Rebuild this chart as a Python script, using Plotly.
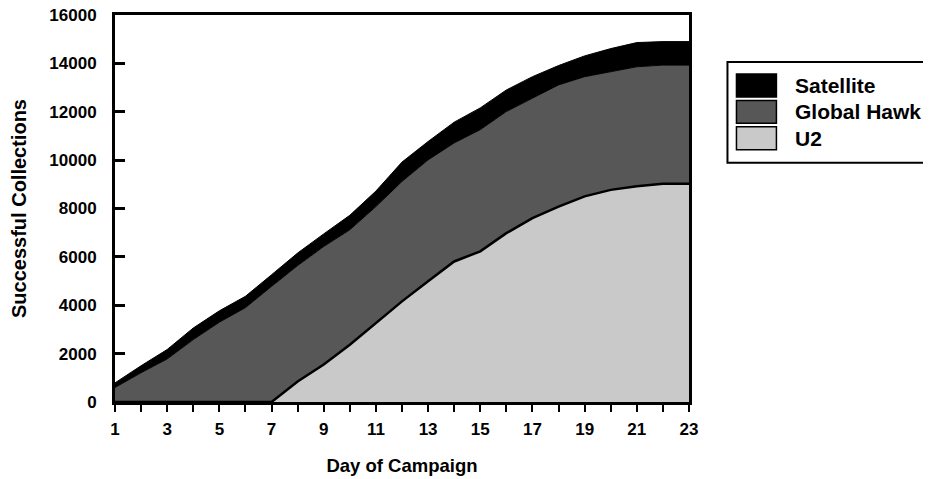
import plotly.graph_objects as go

# day of campaign
days = list(range(1, 24))

# successful collections per platform (stacked: U2 at the bottom)
u2 = [0, 0, 0, 0, 0, 0, 0, 850, 1550, 2370, 3270, 4160, 4990, 5810, 6230, 6980,
      7600, 8080, 8500, 8770, 8920, 9020, 9020]
global_hawk = [600, 1210, 1780, 2580, 3300, 3900, 4780, 4790, 4880, 4750, 4810, 4960,
               5020, 4900, 5030, 5030, 4960, 5030, 4950, 4890, 4940, 4910, 4910]
satellite = [190, 290, 390, 480, 470, 470, 480, 520, 520, 600, 640, 800, 760, 860,
             900, 890, 890, 800, 860, 950, 1000, 970, 970]

x_tick_labels = ["1", "", "3", "", "5", "", "7", "", "9", "", "11", "", "13", "",
                 "15", "", "17", "", "19", "", "21", "", "23"]
y_ticks = [0, 2000, 4000, 6000, 8000, 10000, 12000, 14000, 16000]

series_names = ["U2", "Global Hawk", "Satellite"]
series_values = [u2, global_hawk, satellite]
fill_colors = ["#c9c9c9", "#575757", "#000000"]
line_widths = [2.5, 1, 1]

FONT = "Liberation Sans, Arial, Helvetica, sans-serif"
# the page body adds an 8px offset, so the figure is sized to fit the window
OFF = 8
W, H = 931 - OFF, 479 - OFF
ML, MT = 115 - OFF, 15 - OFF
MR = W - (689.5 - OFF)
MB = H - (402.5 - OFF)

fig = go.Figure()
for name, vals, fc, lw in zip(series_names, series_values, fill_colors, line_widths):
    fig.add_trace(go.Scatter(
        x=days, y=vals, name=name, stackgroup="one", mode="lines",
        line=dict(color="black", width=lw), fillcolor=fc, showlegend=False,
    ))


def px_x(px):
    return (px - OFF - ML) / (W - ML - MR)


def px_y(py):
    return (H - MB - (py - OFF)) / (H - MB - MT)


# legend drawn by hand so the swatches are large boxes like the original
shapes = [dict(type="rect", xref="paper", yref="paper",
               x0=px_x(728), x1=px_x(945), y0=px_y(163), y1=px_y(62),
               line=dict(color="black", width=2), fillcolor="white")]
annotations = []
legend_tops = [74, 100.5, 127]
for top, name, fc in zip(legend_tops, series_names[::-1], fill_colors[::-1]):
    shapes.append(dict(type="rect", xref="paper", yref="paper",
                       x0=px_x(737), x1=px_x(777), y0=px_y(top + 23), y1=px_y(top),
                       line=dict(color="black", width=1.5), fillcolor=fc))
    annotations.append(dict(xref="paper", yref="paper", x=px_x(794), y=px_y(top + 11.5),
                            text=name, showarrow=False, xanchor="left", yanchor="middle",
                            font=dict(family=FONT, size=21, color="black", weight="bold")))

fig.update_layout(
    width=W, height=H,
    margin=dict(l=ML, r=MR, t=MT, b=MB, autoexpand=False),
    plot_bgcolor="white", paper_bgcolor="white",
    shapes=shapes, annotations=annotations,
    font=dict(family=FONT, color="black"),
)
fig.update_xaxes(
    range=[1, 23], tickvals=days, ticktext=x_tick_labels,
    ticks="outside", ticklen=7, tickwidth=2, tickcolor="black",
    showline=True, linewidth=3, linecolor="black", mirror=True,
    showgrid=False, zeroline=False, ticklabelstandoff=3,
    tickfont=dict(family=FONT, size=17, weight="bold"),
    title=dict(text="Day of Campaign", standoff=21,
               font=dict(family=FONT, size=18.5, weight="bold")),
)
fig.update_yaxes(
    range=[0, 16000], tickvals=y_ticks, tickformat="d", ticklabeloverflow="allow",
    ticks="inside", ticklen=10, tickwidth=2.5, tickcolor="black",
    showline=True, linewidth=3, linecolor="black", mirror=True,
    showgrid=False, zeroline=False, ticklabelstandoff=12,
    tickfont=dict(family=FONT, size=17, weight="bold"),
    title=dict(text="Successful Collections", standoff=30,
               font=dict(family=FONT, size=20, weight="bold")),
)

fig.write_html("out.html")
